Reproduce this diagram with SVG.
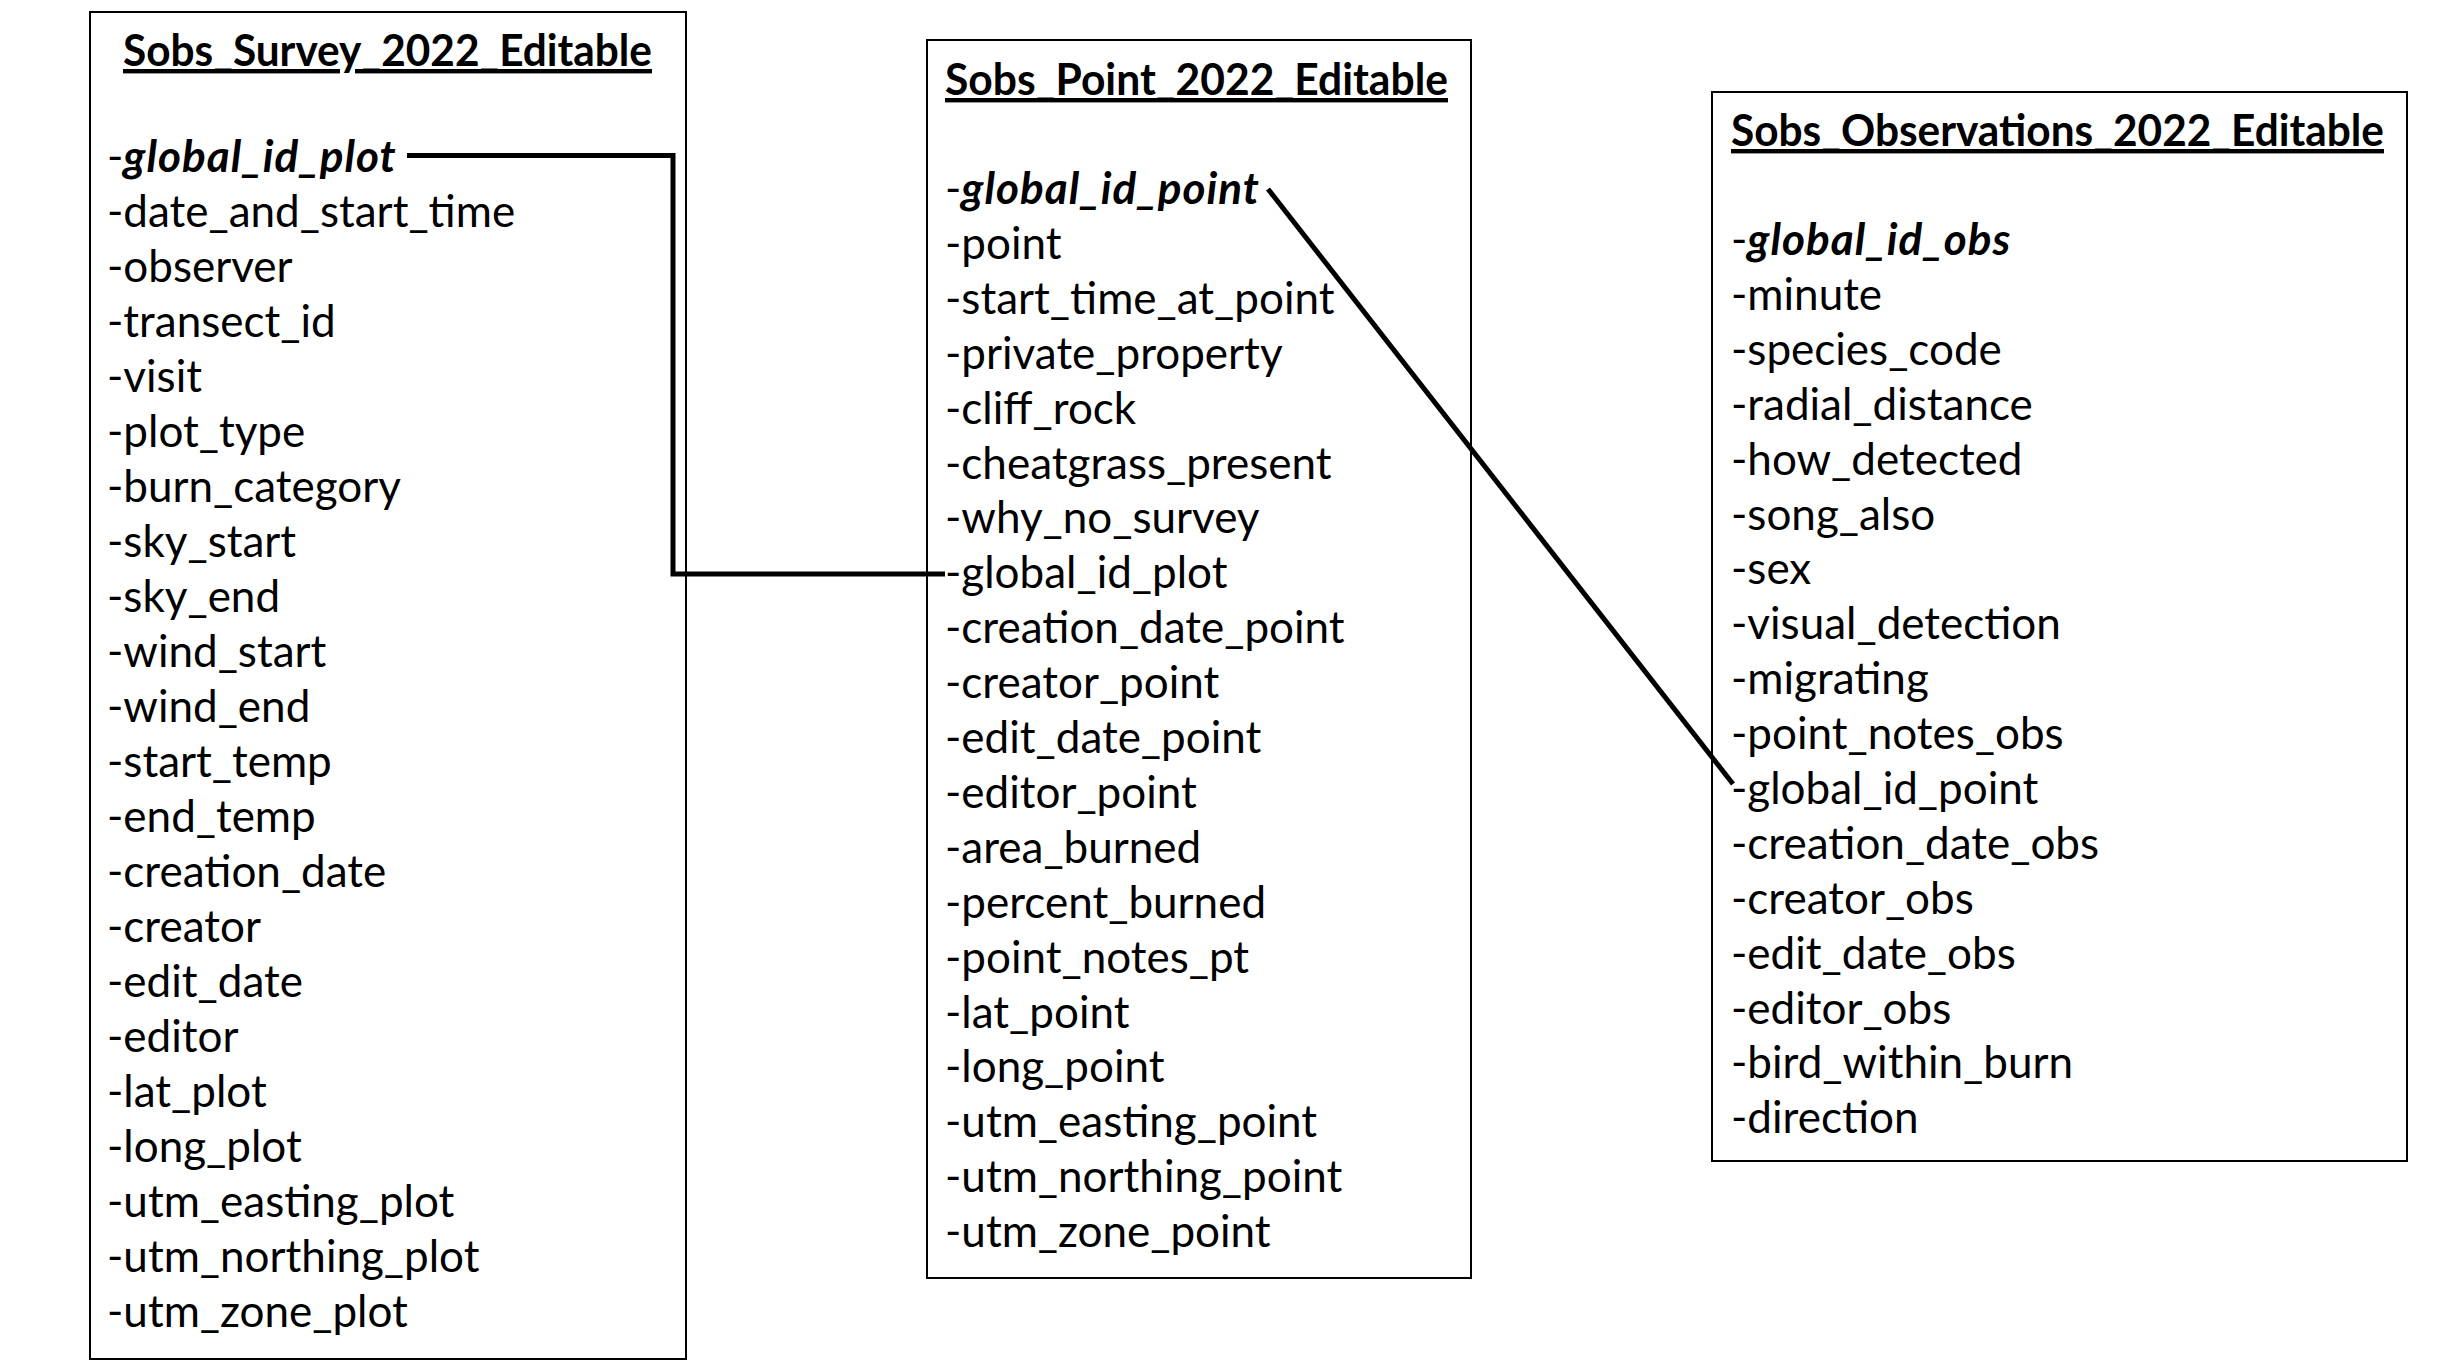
<svg xmlns="http://www.w3.org/2000/svg" width="2438" height="1371" viewBox="0 0 2438 1371">
<style>
.box{fill:#fff;stroke:#000;stroke-width:2}
text{font-family:Lato,"Liberation Sans",sans-serif;font-size:44px;fill:#000}
.title{font-weight:bold;text-decoration:underline}
.key{font-weight:bold;font-style:italic;letter-spacing:1px}
.conn{fill:none;stroke:#000;stroke-width:5}
</style>
<rect width="2438" height="1371" fill="#fff"/>
<g id="survey">
<rect class="box" x="90" y="12" width="596" height="1347"/>
<text class="title" x="123" y="66" textLength="529" lengthAdjust="spacingAndGlyphs">Sobs_Survey_2022_Editable</text>
<text x="107" y="172">-<tspan class="key">global_id_plot</tspan></text>
<text x="107" y="227">-date_and_start_time</text>
<text x="107" y="282">-observer</text>
<text x="107" y="337">-transect_id</text>
<text x="107" y="392">-visit</text>
<text x="107" y="447">-plot_type</text>
<text x="107" y="502">-burn_category</text>
<text x="107" y="557">-sky_start</text>
<text x="107" y="612">-sky_end</text>
<text x="107" y="667">-wind_start</text>
<text x="107" y="722">-wind_end</text>
<text x="107" y="777">-start_temp</text>
<text x="107" y="832">-end_temp</text>
<text x="107" y="887">-creation_date</text>
<text x="107" y="942">-creator</text>
<text x="107" y="997">-edit_date</text>
<text x="107" y="1052">-editor</text>
<text x="107" y="1107">-lat_plot</text>
<text x="107" y="1162">-long_plot</text>
<text x="107" y="1217">-utm_easting_plot</text>
<text x="107" y="1272">-utm_northing_plot</text>
<text x="107" y="1327">-utm_zone_plot</text>
</g>
<g id="point">
<rect class="box" x="927" y="40" width="544" height="1238"/>
<text class="title" x="945" y="95" textLength="503" lengthAdjust="spacingAndGlyphs">Sobs_Point_2022_Editable</text>
<text x="945" y="204">-<tspan class="key">global_id_point</tspan></text>
<text x="945" y="259">-point</text>
<text x="945" y="314">-start_time_at_point</text>
<text x="945" y="369">-private_property</text>
<text x="945" y="424">-cliff_rock</text>
<text x="945" y="479">-cheatgrass_present</text>
<text x="945" y="533">-why_no_survey</text>
<text x="945" y="588">-global_id_plot</text>
<text x="945" y="643">-creation_date_point</text>
<text x="945" y="698">-creator_point</text>
<text x="945" y="753">-edit_date_point</text>
<text x="945" y="808">-editor_point</text>
<text x="945" y="863">-area_burned</text>
<text x="945" y="918">-percent_burned</text>
<text x="945" y="973">-point_notes_pt</text>
<text x="945" y="1028">-lat_point</text>
<text x="945" y="1082">-long_point</text>
<text x="945" y="1137">-utm_easting_point</text>
<text x="945" y="1192">-utm_northing_point</text>
<text x="945" y="1247">-utm_zone_point</text>
</g>
<g id="observations">
<rect class="box" x="1712" y="92" width="695" height="1069"/>
<text class="title" x="1731" y="146" textLength="653" lengthAdjust="spacingAndGlyphs">Sobs_Observations_2022_Editable</text>
<text x="1731" y="255">-<tspan class="key">global_id_obs</tspan></text>
<text x="1731" y="310">-minute</text>
<text x="1731" y="365">-species_code</text>
<text x="1731" y="420">-radial_distance</text>
<text x="1731" y="475">-how_detected</text>
<text x="1731" y="530">-song_also</text>
<text x="1731" y="584">-sex</text>
<text x="1731" y="639">-visual_detection</text>
<text x="1731" y="694">-migrating</text>
<text x="1731" y="749">-point_notes_obs</text>
<text x="1731" y="804">-global_id_point</text>
<text x="1731" y="859">-creation_date_obs</text>
<text x="1731" y="914">-creator_obs</text>
<text x="1731" y="969">-edit_date_obs</text>
<text x="1731" y="1024">-editor_obs</text>
<text x="1731" y="1078">-bird_within_burn</text>
<text x="1731" y="1133">-direction</text>
</g>
<g id="connectors">
<polyline class="conn" points="407,155.5 673,155.5 673,574 945,574"/>
<line class="conn" x1="1268" y1="189" x2="1733" y2="784"/>
</g>
</svg>
